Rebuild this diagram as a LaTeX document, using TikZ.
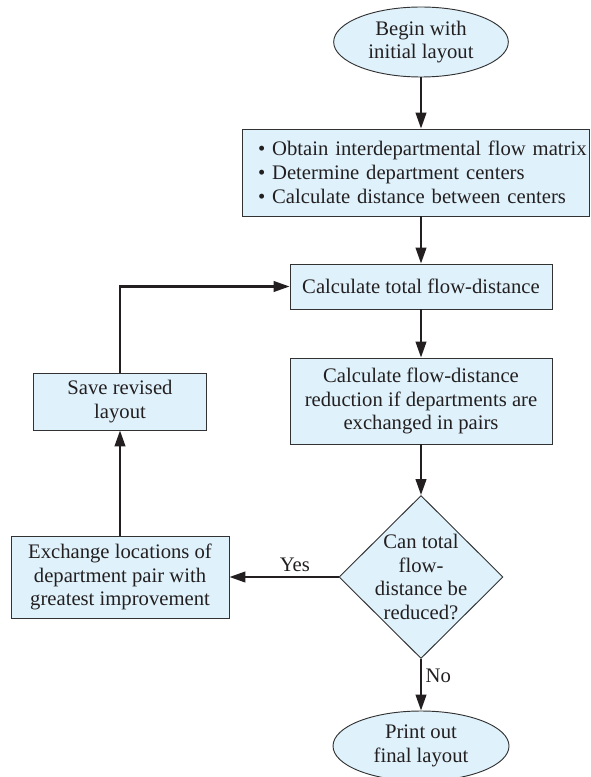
\documentclass[tikz,border=0pt]{standalone}
\usepackage{fontspec}
\setmainfont{Liberation Serif}
\usetikzlibrary{shapes.geometric,arrows.meta}

\definecolor{boxfill}{RGB}{223,242,251}
\definecolor{boxline}{RGB}{50,50,50}
\definecolor{ink}{RGB}{35,31,32}

\tikzset{
  block/.style={draw=boxline, line width=0.7pt, fill=boxfill, text=ink, align=center, inner sep=0pt},
  term/.style={block, ellipse},
  decision/.style={block, diamond},
  flow/.style={draw=ink, line width=1.6pt, -{Triangle[length=12pt,width=8pt]}},
}
\newcommand{\flowfont}{\fontsize{15.5}{17.8}\selectfont}
\newcommand{\bulletline}[1]{\mbox{\hspace*{12pt}\textbullet\ #1}}

\begin{document}
\begin{tikzpicture}[x=0.75pt,y=-0.75pt,font=\flowfont,text=ink]
    \useasboundingbox (0,0) rectangle (590,777); % page size
    % main column
    \node[term, minimum width=131pt, minimum height=52.5pt] (start) at (421,42) {Begin with\\initial layout};
    \node[block, align=left, text width=260.25pt, minimum height=65.25pt] (obtain) at (415.5,172.5)
      {\bulletline{Obtain interdepartmental flow matrix}\\
       \bulletline{Determine department centers}\\
       \bulletline{Calculate distance between centers}};
    \node[block, minimum width=196.5pt, minimum height=33.75pt] (total) at (421,286.5) {Calculate total flow-distance};
    \node[block, minimum width=196.5pt, minimum height=64.5pt] (reduce) at (421,401)
      {Calculate flow-distance\\reduction if departments are\\exchanged in pairs};
    \node[decision, minimum width=123pt, minimum height=122.25pt] (check) at (421,577) {};
    \node[align=center] (checktext) at (check) {Can total\\flow-\\distance be\\reduced?}; % text runs over the diamond
    \node[term, minimum width=132pt, minimum height=52.5pt] (stop) at (421,746) {Print out\\final layout};
    % loop back
    \node[block, minimum width=163.5pt, minimum height=61.5pt] (exchange) at (120,577)
      {Exchange locations of\\department pair with\\greatest improvement};
    \node[block, minimum width=129.75pt, minimum height=42.75pt] (save) at (120,401.5) {Save revised\\layout};

    \draw[flow] (start) -- (start |- obtain.north);
    \draw[flow] (obtain.south -| total) -- (total);
    \foreach \a/\b in {total/reduce, reduce/check, check/stop}{%
      \draw[flow] (\a) -- (\b);
    }
    \path (check) -- node[right, pos=0.32] (no) {No} (stop);
    \draw[flow] (check) -- node[above, pos=0.4] (yes) {Yes} (exchange);
    \draw[flow] (exchange) -- (save);
    \draw[flow] (save) |- (total);
\end{tikzpicture}
\end{document}
